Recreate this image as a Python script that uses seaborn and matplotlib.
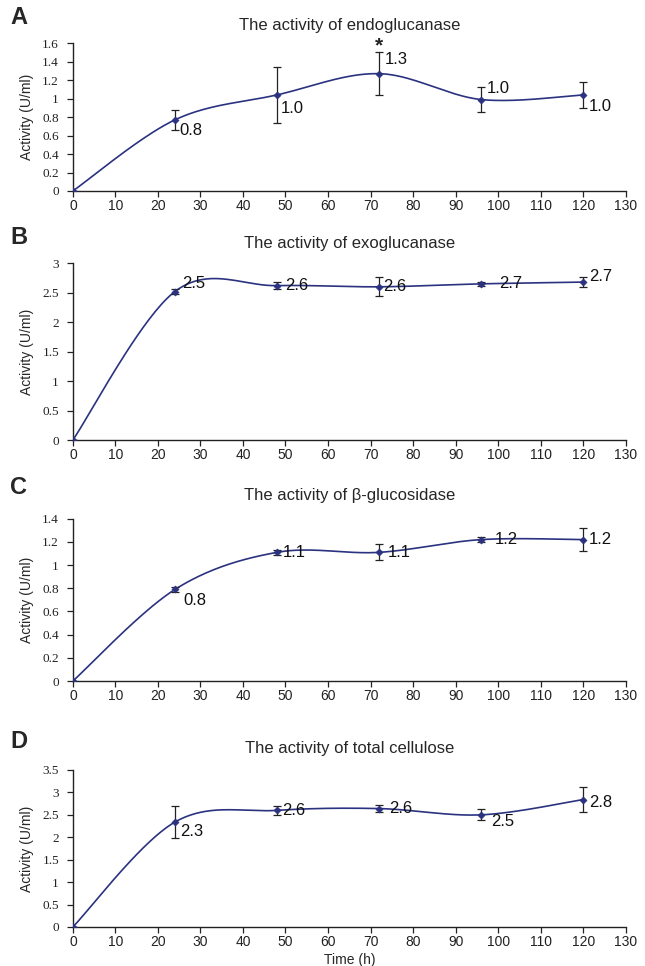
import numpy as np
import pandas as pd
import matplotlib
matplotlib.use('Agg')
import matplotlib.pyplot as plt
import seaborn as sns

# 数据
hours = [0, 24, 48, 72, 96, 120]

endo_mean = [0, 0.77, 1.04, 1.27, 0.99, 1.04]
endo_err = [0, 0.11, 0.30, 0.23, 0.14, 0.14]
endo_label = ['', '0.8', '1.0', '1.3', '1.0', '1.0']

exo_mean = [0, 2.52, 2.62, 2.60, 2.65, 2.68]
exo_err = [0, 0.05, 0.06, 0.16, 0.03, 0.08]
exo_label = ['', '2.5', '2.6', '2.6', '2.7', '2.7']

bg_mean = [0, 0.79, 1.11, 1.11, 1.22, 1.22]
bg_err = [0, 0.02, 0.02, 0.07, 0.02, 0.10]
bg_label = ['', '0.8', '1.1', '1.1', '1.2', '1.2']

tot_mean = [0, 2.34, 2.60, 2.64, 2.50, 2.84]
tot_err = [0, 0.36, 0.10, 0.08, 0.12, 0.27]
tot_label = ['', '2.3', '2.6', '2.6', '2.5', '2.8']

titles = ['The activity of endoglucanase', 'The activity of exoglucanase',
          'The activity of β-glucosidase', 'The activity of total cellulose']
letters = ['A', 'B', 'C', 'D']
y_max = [1.6, 3, 1.4, 3.5]
y_step = [0.2, 0.5, 0.2, 0.5]

sns.set_theme(style='ticks')
plt.rcParams['font.family'] = ['Liberation Sans', 'DejaVu Sans']

line_color = '#2b3280'


# Excel 风格的平滑曲线（贝塞尔）
def smooth_curve(x, y, n=40):
    x = np.asarray(x, float)
    y = np.asarray(y, float)
    px = np.concatenate([[x[0]], x, [x[-1]]])
    py = np.concatenate([[y[0]], y, [y[-1]]])
    xs, ys = [], []
    t = np.linspace(0, 1, n)
    for i in range(len(x) - 1):
        p0 = np.array([px[i + 1], py[i + 1]])
        p3 = np.array([px[i + 2], py[i + 2]])
        c1 = p0 + (np.array([px[i + 2], py[i + 2]]) - np.array([px[i], py[i]])) / 6
        c2 = p3 - (np.array([px[i + 3], py[i + 3]]) - np.array([px[i + 1], py[i + 1]])) / 6
        b = ((1 - t) ** 3)[:, None] * p0 + (3 * (1 - t) ** 2 * t)[:, None] * c1 \
            + (3 * (1 - t) * t ** 2)[:, None] * c2 + (t ** 3)[:, None] * p3
        xs.extend(b[:, 0])
        ys.extend(b[:, 1])
    return np.array(xs), np.array(ys)


# 标签偏移 (x, y) 单位: 点
offsets = [
    [(0, 0), (3, -8), (3, -10), (4, 10), (4, 8), (4, -8)],
    [(0, 0), (5, 6), (6, 0), (3, 0), (13, 0), (4, 4)],
    [(0, 0), (6, -8), (4, 0), (6, 0), (10, 0), (4, 0)],
    [(0, 0), (4, -7), (4, 0), (7, 0), (7, -5), (4, -2)],
]
title_pad = [9.5, 11, 13.5, 12]
letter_y = [18, 237, 488, 742]

fig = plt.figure(figsize=(6.45, 9.66), dpi=100)
rects = [[0.113, 0.8023, 0.857, 0.153],
         [0.113, 0.5445, 0.857, 0.183],
         [0.113, 0.295, 0.857, 0.168],
         [0.113, 0.0404, 0.857, 0.1625]]

all_data = [(endo_mean, endo_err, endo_label), (exo_mean, exo_err, exo_label),
            (bg_mean, bg_err, bg_label), (tot_mean, tot_err, tot_label)]

for k, (means, errs, labels) in enumerate(all_data):
    ax = fig.add_axes(rects[k])
    sx, sy = smooth_curve(hours, means)
    df_s = pd.DataFrame({'x': sx, 'y': sy})
    sns.lineplot(data=df_s, x='x', y='y', ax=ax, color=line_color, linewidth=1.2,
                 sort=False, estimator=None)
    ax.errorbar(hours, means, yerr=errs, fmt='none', ecolor='#222222', elinewidth=0.9,
                capsize=3, capthick=0.9, zorder=3)
    df_p = pd.DataFrame({'x': hours, 'y': means})
    sns.scatterplot(data=df_p, x='x', y='y', ax=ax, marker='D', s=14, color=line_color,
                    edgecolor=line_color, zorder=4)
    for i in range(1, len(hours)):
        ax.annotate(labels[i], (hours[i], means[i]), xytext=offsets[k][i],
                    textcoords='offset points', ha='left', va='center', fontsize=12,
                    color='#111111')
    if k == 0:
        ax.annotate('*', (hours[3], means[3] + errs[3]), xytext=(0, -2),
                    textcoords='offset points', ha='center', va='bottom',
                    fontsize=15, fontweight='bold', color='#222222')

    ax.set_xlim(0, 130)
    ax.set_ylim(0, y_max[k])
    ax.set_xticks(np.arange(0, 131, 10))
    yt = np.arange(0, y_max[k] + 1e-9, y_step[k])
    ax.set_yticks(yt)
    ax.set_yticklabels([f'{v:g}' for v in yt], family='Liberation Serif', fontsize=9.5)
    ax.set_xticklabels([str(v) for v in range(0, 131, 10)], fontsize=10)
    if k == 3:
        ax.set_xlabel('Time (h)', fontsize=10, labelpad=3)
    else:
        ax.set_xlabel('')
    ax.set_ylabel('Activity (U/ml)', fontsize=10, labelpad=6)
    ax.tick_params(axis='x', direction='out', length=4, width=0.9, colors='#222222', pad=2)
    ax.tick_params(axis='y', direction='out', length=4, width=0.9, colors='#222222', pad=6)
    for s in ['left', 'bottom']:
        ax.spines[s].set_linewidth(1.0)
        ax.spines[s].set_color('#222222')
    sns.despine(ax=ax)
    ax.set_title(titles[k], fontsize=12, pad=title_pad[k])
    fig.text(10 / 645, 1 - letter_y[k] / 966, letters[k], fontsize=17, fontweight='bold',
             ha='left', va='center')

fig.savefig('out.png', dpi=100)
